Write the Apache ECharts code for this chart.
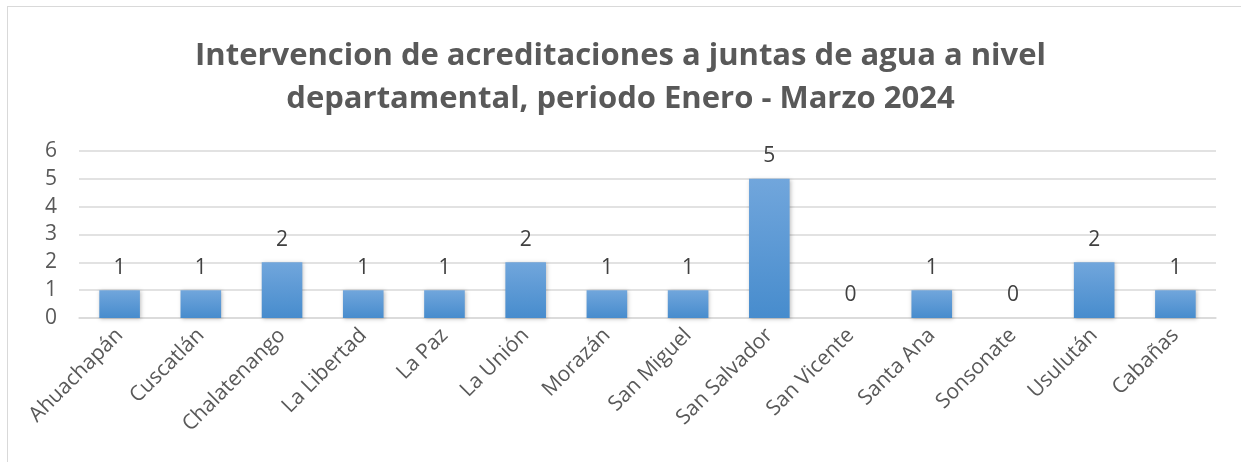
<!DOCTYPE html>
<html>
<head>
<meta charset="utf-8">
<script src="https://cdn.jsdelivr.net/npm/echarts@6/dist/echarts.min.js"></script>
<style>
  html, body { margin: 0; padding: 0; background: #fff; }
  #frame { position: absolute; left: 7px; top: 6px; width: 1240px; height: 460px; border: 1px solid #d9d9d9; box-sizing: border-box; }
  #chart { width: 1241px; height: 462px; }
</style>
</head>
<body>
<div id="frame"></div>
<div id="chart"></div>
<script>
const departamentos = ["Ahuachapán", "Cuscatlán", "Chalatenango", "La Libertad", "La Paz", "La Unión",
  "Morazán", "San Miguel", "San Salvador", "San Vicente", "Santa Ana", "Sonsonate", "Usulután", "Cabañas"];
const intervenciones = [1, 1, 2, 1, 1, 2, 1, 1, 5, 0, 1, 0, 2, 1];
const y_ticks = [0, 1, 2, 3, 4, 5, 6];

const chart = echarts.init(document.getElementById("chart"));
chart.setOption({
  animation: false,
  title: {
    text: "Intervencion de acreditaciones a juntas de agua a nivel\ndepartamental, periodo Enero - Marzo 2024",
    left: "center",
    top: 30,
    textStyle: { color: "#595959", fontSize: 31, fontWeight: "bold", fontFamily: "Open Sans", lineHeight: 43 },
  },
  grid: { left: 79, right: 25, top: 151, bottom: 144 },
  xAxis: {
    type: "category",
    data: departamentos,
    axisLine: { lineStyle: { color: "#d9d9d9", width: 1.5 } },
    axisTick: { show: false },
    axisLabel: { rotate: 45, color: "#595959", fontSize: 21, fontFamily: "Open Sans", margin: 14, interval: 0 },
  },
  yAxis: {
    type: "value",
    min: y_ticks[0],
    max: y_ticks[y_ticks.length - 1],
    interval: 1,
    axisLine: { show: false },
    axisTick: { show: false },
    axisLabel: { color: "#595959", fontSize: 21, fontFamily: "Open Sans", margin: 22 },
    splitLine: { lineStyle: { color: "#d9d9d9", width: 1.5 } },
  },
  series: [
    {
      type: "bar",
      data: intervenciones,
      barWidth: "50%",
      itemStyle: {
        color: new echarts.graphic.LinearGradient(0, 0, 0, 1, [
          { offset: 0, color: "#71a6dc" },
          { offset: 1, color: "#478ccd" },
        ]),
        shadowColor: "rgba(0,0,0,0.25)",
        shadowBlur: 4,
        shadowOffsetX: 1,
        shadowOffsetY: 1,
      },
      label: { show: true, position: "top", distance: 12, color: "#404040", fontSize: 21, fontFamily: "Open Sans" },
    },
  ],
});
</script>
</body>
</html>
